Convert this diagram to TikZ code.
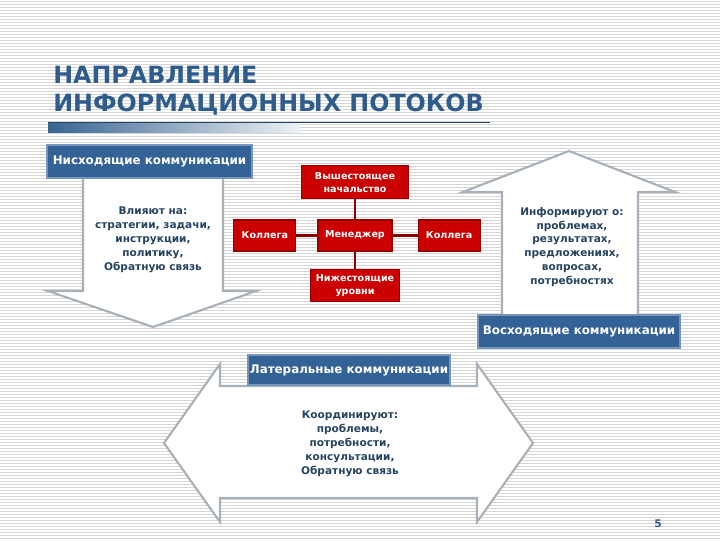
\documentclass[tikz,border=0pt]{standalone}
\usepackage{fontspec}
\setmainfont{DejaVu Sans}
\usetikzlibrary{
    positioning,
    backgrounds
    }

\definecolor{titleblue}{RGB}{46,92,140}
\definecolor{labelblue}{RGB}{51,98,150}
\definecolor{labelrim}{RGB}{120,150,185}
\definecolor{textslate}{RGB}{38,68,98}
\definecolor{boxred}{RGB}{204,0,0}
\definecolor{boxrim}{RGB}{150,0,0}
\definecolor{linkred}{RGB}{140,0,0}
\definecolor{arrowrim}{RGB}{168,176,186}
\definecolor{stripegray}{RGB}{214,214,214}

\begin{document}
\begin{tikzpicture}[x=0.025cm, y=-0.025cm]
% chktex-file 8
\tikzset{stripe/.style =
        {
            stripegray,
            line width=0.6pt
        }
}

\tikzset{titletext/.style =
        {
            anchor=base west,
            inner sep=0pt,
            text=titleblue,
            font=\fontsize{16.9}{20}\selectfont\bfseries
        }
}

\tikzset{flowarrow/.style =
        {
            draw=arrowrim,
            line width=1.5pt,
            fill=white,
            line join=miter
        }
}

\tikzset{bluelabel/.style =
        {
            rectangle,
            draw=labelrim,
            line width=0.8pt,
            fill=labelblue,
            text=white,
            minimum height=0.825cm,
            inner sep=0pt,
            font=\fontsize{8.45}{10}\selectfont\bfseries
        }
}

\tikzset{flowtext/.style =
        {
            align=center,
            inner sep=0pt,
            text=textslate,
            font=\fontsize{7.5}{9.9}\selectfont\bfseries
        }
}

\tikzset{redbox/.style =
        {
            rectangle,
            draw=boxrim,
            line width=0.8pt,
            fill=boxred,
            text=white,
            align=center,
            minimum height=0.775cm,
            inner sep=0pt,
            font=\fontsize{6.8}{9.2}\selectfont\bfseries
        }
}

\tikzset{link/.style =
        {
            linkred,
            line width=2pt
        }
}

		\useasboundingbox (0,0) rectangle (720,540);
		\fill[white] (0,0) rectangle (720,540);
		\foreach \y in {1.5,4.5,...,540}
		\draw[stripe] (0,\y) -- (720,\y);

		% heading
		\node[titletext] (title-1) at (53,83) {НАПРАВЛЕНИЕ};
		\node[titletext] (title-2) at (53,111) {ИНФОРМАЦИОННЫХ ПОТОКОВ};
		\shade[left color=titleblue!95, right color=titleblue!8] (48,123) rectangle (300,132);
		\draw[textslate, line width=0.7pt] (48,122.5) -- (490,122.5);

		% three arrows
		\draw[flowarrow] (83,170) -- (83,291) -- (48,291) -- (153,327)
			-- (256,291) -- (223,291) -- (223,170);
		\draw[flowarrow] (502,320) -- (502,192) -- (463,192) -- (569,151)
			-- (675,192) -- (638,192) -- (638,320);
		\draw[flowarrow] (220,386) -- (220,364) -- (164,443) -- (220,522)
			-- (220,498) -- (477,498) -- (477,522) -- (533,443)
			-- (477,364) -- (477,386) -- cycle;

		\node[bluelabel, minimum width=5.125cm] (down) at (149.5,161.5) {Нисходящие коммуникации};
		\node[bluelabel, minimum width=5.05cm] (up) at (579,331.5) {Восходящие коммуникации};
		\node[bluelabel, minimum width=5.05cm, minimum height=0.75cm] (lateral) at (349,370) {Латеральные коммуникации};

		\node[flowtext] (down-text) at (153,240) {Влияют на:\\стратегии, задачи,\\инструкции,\\политику,\\Обратную связь};
		\node[flowtext] (up-text) at (572,247) {Информируют о:\\проблемах,\\результатах,\\предложениях,\\вопросах,\\потребностях};
		\node[flowtext] (lateral-text) at (350,443.5) {Координируют:\\проблемы,\\потребности,\\консультации,\\Обратную связь};

		% org chart
		\node[redbox, minimum width=1.85cm] (manager) at (355,235.5) {Менеджер};
		\node[redbox, minimum width=1.55cm, left=0.525cm of manager] (colleague-l) {Коллега};
		\node[redbox, minimum width=1.55cm, right=0.625cm of manager] (colleague-r) {Коллега};
		\node[redbox, minimum width=2.675cm, minimum height=0.825cm, above=0.5cm of manager] (superiors) {Вышестоящее\\начальство};
		\node[redbox, minimum width=2.225cm, minimum height=0.8cm, below=0.425cm of manager] (subordinates) {Нижестоящие\\уровни};

		\foreach \start / \finish in
			{superiors/manager,
				manager/subordinates,
				colleague-l/manager,
				manager/colleague-r}
			{
				\draw [link] (\start) -- (\finish);
			}

		\node[text=titleblue, font=\fontsize{7.5}{9}\selectfont\bfseries] (page) at (658,524) {5};

	\end{tikzpicture}
\end{document}
